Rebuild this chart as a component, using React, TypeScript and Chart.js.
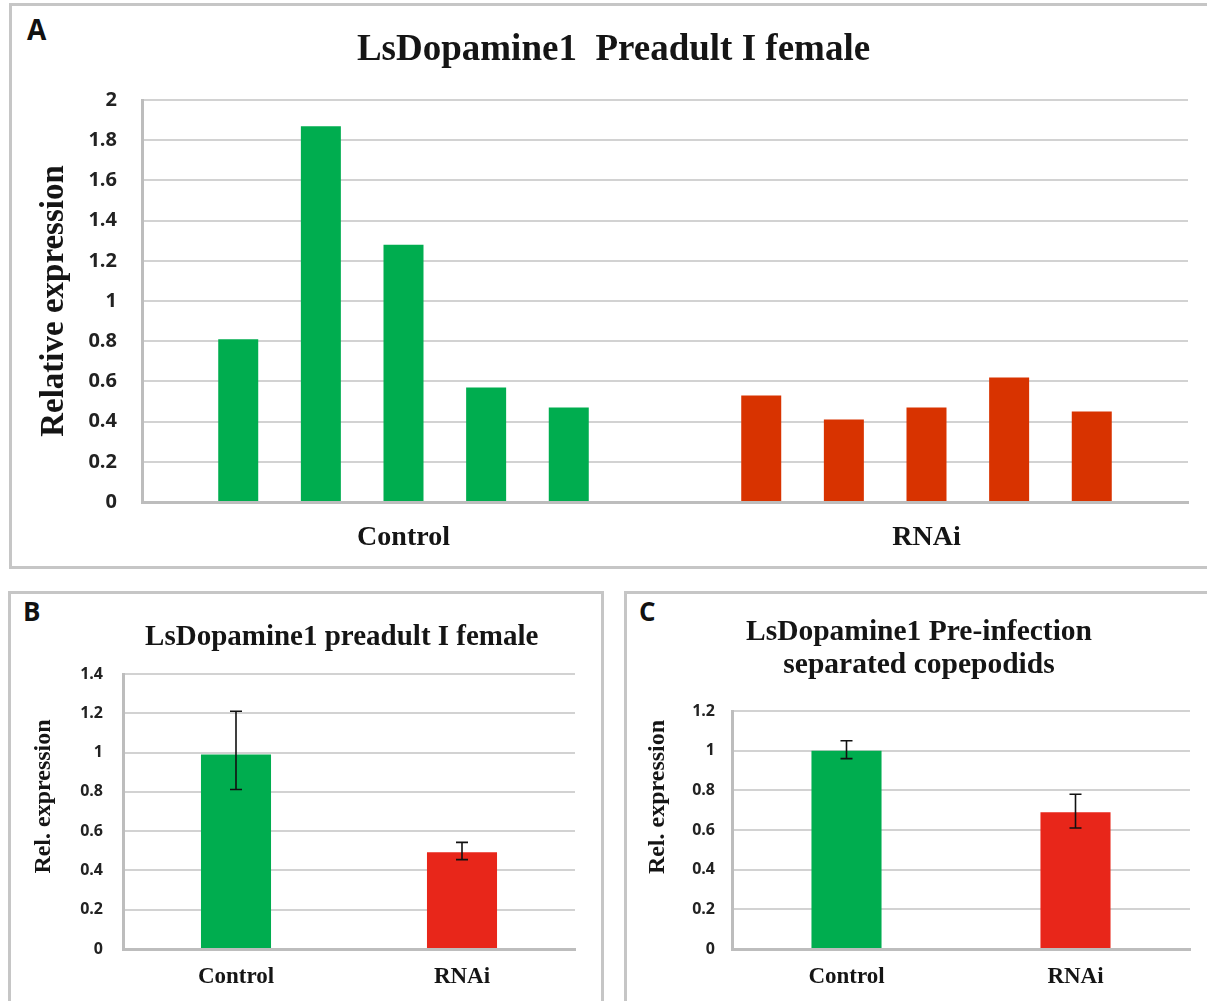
import React, { useEffect, useRef } from 'react';
import { Chart, registerables } from 'chart.js';

Chart.register(...registerables);

// ---------- data ----------
const panelACategories = ['Control', 'RNAi'];
const panelAControl = [0.81, 1.87, 1.28, 0.57, 0.47];
const panelARnai = [0.53, 0.41, 0.47, 0.62, 0.45];
const panelAYMax = 2;

const panelBCategories = ['Control', 'RNAi'];
const panelBValues = [0.99, 0.492];
const panelBErrLow = [0.812, 0.455];
const panelBErrHigh = [1.21, 0.543];
const panelBYMax = 1.4;

const panelCCategories = ['Control', 'RNAi'];
const panelCValues = [1.0, 0.69];
const panelCErrLow = [0.96, 0.61];
const panelCErrHigh = [1.05, 0.78];
const panelCYMax = 1.2;

const yStep = 0.2;

// ---------- styles ----------
const GREEN = '#00ad4f';
const RED_A = '#d83300';
const RED_BC = '#e8261a';
const GRID = '#d2d2d2';
const AXIS = '#bdbdbd';
const TEXT = '#151515';
const TICK = '#222222';
const SERIF = "'Liberation Serif', 'Times New Roman', serif";
const SANS = "'Open Sans', 'DejaVu Sans', sans-serif";

const errorBarPlugin = {
  id: 'errorBars',
  afterDatasetsDraw(chart: any, _args: any, opts: any) {
    const { low, high } = opts || {};
    if (!low || !high) return;
    const yScale = chart.scales.y;
    const meta = chart.getDatasetMeta(0);
    const ctx = chart.ctx;
    ctx.save();
    ctx.strokeStyle = opts.color || '#000';
    ctx.lineWidth = opts.width || 1.5;
    const cap = opts.cap || 6;
    meta.data.forEach((bar: any, i: number) => {
      const x = bar.x;
      const yl = yScale.getPixelForValue(low[i]);
      const yh = yScale.getPixelForValue(high[i]);
      ctx.beginPath();
      ctx.moveTo(x, yl);
      ctx.lineTo(x, yh);
      ctx.moveTo(x - cap, yl);
      ctx.lineTo(x + cap, yl);
      ctx.moveTo(x - cap, yh);
      ctx.lineTo(x + cap, yh);
      ctx.stroke();
    });
    ctx.restore();
  },
};

const formatTick = (v: any) => String(Number(Number(v).toFixed(1)));

function buildOptions(p: any) {
  return {
    responsive: false,
    animation: false,
    layout: { padding: { left: p.padLeft, right: p.padRight, top: 0, bottom: 0 } },
    plugins: {
      legend: { display: false },
      tooltip: { enabled: false },
      title: {
        display: true,
        text: p.title,
        fullSize: p.titleFullSize !== false,
        color: TEXT,
        font: { family: SERIF, size: p.titleSize, weight: 'bold', lineHeight: p.titleLH },
        padding: { top: p.titlePadTop, bottom: p.titlePadBottom },
      },
      errorBars: p.errorBars || {},
    },
    scales: {
      x: {
        grid: { display: false, drawTicks: false },
        border: { display: true, color: AXIS, width: 3 },
        ticks: {
          color: TEXT,
          font: { family: SERIF, size: p.xFont, weight: 'bold' },
          padding: p.xPad,
        },
        afterFit: (scale: any) => {
          scale.height = p.xHeight;
        },
      },
      y: {
        min: 0,
        max: p.yMax,
        ticks: {
          stepSize: yStep,
          color: TICK,
          font: { family: SANS, size: p.tickFont, weight: 'bold' },
          padding: p.tickPad,
          callback: formatTick,
        },
        grid: { color: GRID, lineWidth: 2, drawTicks: false },
        border: { display: true, color: AXIS, width: 3 },
        title: {
          display: true,
          text: p.yTitle,
          color: TEXT,
          font: { family: SERIF, size: p.yTitleSize, weight: 'bold' },
          padding: { top: p.yTitlePad, bottom: 0 },
        },
        afterFit: (scale: any) => {
          scale.width = p.yWidth;
        },
      },
    },
  };
}

function ChartCanvas(props: { config: any; left: number; top: number; width: number; height: number }) {
  const ref = useRef<HTMLCanvasElement | null>(null);
  useEffect(() => {
    if (!ref.current) return;
    const chart = new Chart(ref.current, props.config);
    return () => chart.destroy();
  }, []);
  return (
    <canvas
      ref={ref}
      width={props.width}
      height={props.height}
      style={{
        position: 'absolute',
        left: props.left,
        top: props.top,
        width: props.width,
        height: props.height,
      }}
    />
  );
}

const configA = {
  type: 'bar',
  data: {
    labels: panelACategories,
    datasets: panelAControl.map((v, i) => ({
      data: [v, panelARnai[i]],
      backgroundColor: [GREEN, RED_A],
      borderWidth: 0,
      categoryPercentage: 0.79,
      barPercentage: 0.484,
    })),
  },
  options: buildOptions({
    padLeft: 27,
    padRight: 27,
    title: 'LsDopamine1  Preadult I female',
    titleSize: 37,
    titleLH: 1.2,
    titlePadTop: 22,
    titlePadBottom: 27.6,
    xFont: 28,
    xPad: 19,
    xHeight: 64,
    yMax: panelAYMax,
    tickFont: 20,
    tickPad: 25,
    yTitle: 'Relative expression',
    yTitleSize: 33,
    yTitlePad: -4.8,
    yWidth: 103,
  }),
};

const configB = {
  type: 'bar',
  data: {
    labels: panelBCategories,
    datasets: [
      {
        data: panelBValues,
        backgroundColor: [GREEN, RED_BC],
        borderWidth: 0,
        categoryPercentage: 1,
        barPercentage: 0.31,
      },
    ],
  },
  plugins: [errorBarPlugin],
  options: buildOptions({
    padLeft: 0,
    padRight: 26,
    title: 'LsDopamine1 preadult I female  ',
    titleFullSize: false,
    titleSize: 29,
    titleLH: 1.2,
    titlePadTop: 26,
    titlePadBottom: 19.2,
    xFont: 23,
    xPad: 14,
    xHeight: 52,
    yMax: panelBYMax,
    tickFont: 16,
    tickPad: 20,
    yTitle: '     Rel. expression',
    yTitleSize: 24,
    yTitlePad: 18.6,
    yWidth: 112,
    errorBars: { low: panelBErrLow, high: panelBErrHigh, color: '#111', width: 1.6, cap: 6 },
  }),
};

const configC = {
  type: 'bar',
  data: {
    labels: panelCCategories,
    datasets: [
      {
        data: panelCValues,
        backgroundColor: [GREEN, RED_BC],
        borderWidth: 0,
        categoryPercentage: 1,
        barPercentage: 0.306,
      },
    ],
  },
  plugins: [errorBarPlugin],
  options: buildOptions({
    padLeft: 21,
    padRight: 21,
    title: ['LsDopamine1 Pre-infection', 'separated copepodids'],
    titleSize: 29.5,
    titleLH: 33 / 29.5,
    titlePadTop: 21.5,
    titlePadBottom: 29.5,
    xFont: 23,
    xPad: 14,
    xHeight: 52,
    yMax: panelCYMax,
    tickFont: 16,
    tickPad: 17,
    yTitle: '           Rel. expression',
    yTitleSize: 24,
    yTitlePad: -4.4,
    yWidth: 84,
    errorBars: { low: panelCErrLow, high: panelCErrHigh, color: '#111', width: 1.6, cap: 6 },
  }),
};

const borderStyle = '3px solid #c6c6c6';

function PanelLetter(props: { text: string; left: number; top: number; size: number }) {
  return (
    <div
      style={{
        position: 'absolute',
        left: props.left,
        top: props.top,
        fontFamily: SANS,
        fontWeight: 'bold',
        fontSize: props.size,
        lineHeight: `${props.size}px`,
        color: '#111',
      }}
    >
      {props.text}
    </div>
  );
}

export default function App() {
  return (
    <div
      style={{
        position: 'fixed',
        left: 0,
        top: 0,
        width: 1207,
        height: 1001,
        background: '#ffffff',
        overflow: 'hidden',
      }}
    >
      <div style={{ position: 'absolute', left: 9, top: 3, width: 1230, height: 566, border: borderStyle, boxSizing: 'border-box' }} />
      <div style={{ position: 'absolute', left: 8, top: 591, width: 596, height: 440, border: borderStyle, boxSizing: 'border-box' }} />
      <div style={{ position: 'absolute', left: 624, top: 591, width: 620, height: 440, border: borderStyle, boxSizing: 'border-box' }} />
      <PanelLetter text="A" left={27} top={15} size={28} />
      <PanelLetter text="B" left={23} top={598} size={26} />
      <PanelLetter text="C" left={639} top={598} size={26} />
      <ChartCanvas config={configA} left={12} top={6} width={1203} height={560} />
      <ChartCanvas config={configB} left={11} top={594} width={590} height={407} />
      <ChartCanvas config={configC} left={627} top={594} width={584} height={407} />
    </div>
  );
}
